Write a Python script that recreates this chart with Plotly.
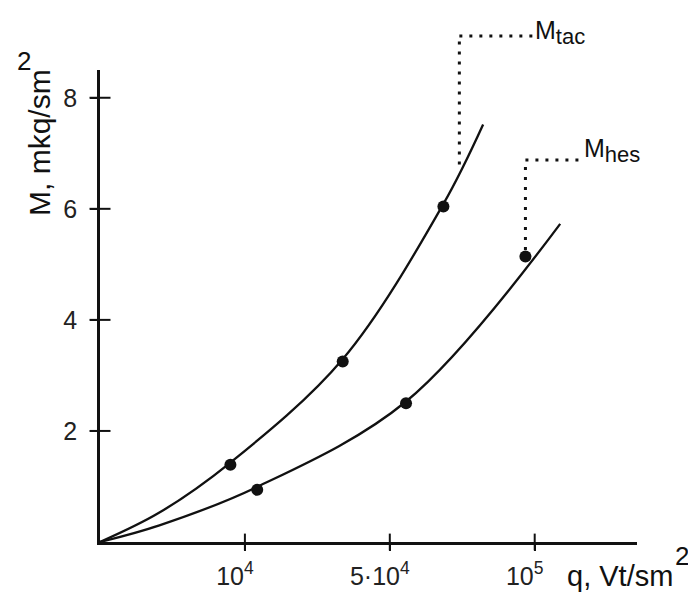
import plotly.graph_objects as go

# q axis is drawn with equal spacing between these anchor values
Q_ANCHORS = [0.0, 1e4, 5e4, 1e5]
Q_TICK_VALUES = [1e4, 5e4, 1e5]
Q_TICK_TEXT = ["10<sup>4</sup>", "5·10<sup>4</sup>", "10<sup>5</sup>"]
M_TICKS = [2, 4, 6, 8]

# measured points (q in Vt/sm^2, M in mkq/sm^2)
tec_q = [0.90e4, 3.70e4, 6.85e4]
tec_M = [1.39, 3.25, 6.04]
hes_q = [1.34e4, 5.56e4, 9.68e4]
hes_M = [0.94, 2.50, 5.14]

# smoothed curves through the measurements
tec_curve_q = [0.0, 0.41e4, 0.90e4, 3.71e4, 6.84e4, 8.22e4]
tec_curve_M = [0.0, 0.53, 1.43, 3.30, 6.08, 7.52]
hes_curve_q = [0.0, 0.41e4, 1.33e4, 5.56e4, 10.88e4]
hes_curve_M = [0.0, 0.30, 0.99, 2.53, 5.73]

# points where the label leaders touch each series
tec_leader = (7.40e4, 6.80)
hes_leader = (hes_q[-1], hes_M[-1] + 0.12)

X_RANGE = [0.0, 3.706]
Y_RANGE = [0.0, 8.50]
FONT = "Liberation Sans, Arial, sans-serif"
INK = "#111111"


def q_pos(q):
    """Position of q on the drawn (piecewise-uniform) q axis."""
    a = Q_ANCHORS
    for i in range(len(a) - 1):
        if q <= a[i + 1] or i == len(a) - 2:
            return i + (q - a[i]) / (a[i + 1] - a[i])
    return float(len(a) - 1)


def qs(values):
    return [q_pos(v) for v in values]


# plot area geometry in pixels
W, H = 688, 604
L, R, T, B = 100, 51, 70, 62
PW, PH = W - L - R, H - T - B


def px_to_paper(x=None, y=None):
    out = []
    if x is not None:
        out.append((x - L) / PW)
    if y is not None:
        out.append((H - B - y) / PH)
    return out[0] if len(out) == 1 else tuple(out)


def data_to_paper(q, m):
    u = q_pos(q)
    return ((u - X_RANGE[0]) / (X_RANGE[1] - X_RANGE[0]),
            (m - Y_RANGE[0]) / (Y_RANGE[1] - Y_RANGE[0]))


fig = go.Figure()

for cq, cm in [(tec_curve_q, tec_curve_M), (hes_curve_q, hes_curve_M)]:
    fig.add_trace(go.Scatter(x=qs(cq), y=cm, mode="lines",
                             line=dict(color=INK, width=2.3, shape="spline", smoothing=1.0),
                             showlegend=False, hoverinfo="skip"))

for pq, pm in [(tec_q, tec_M), (hes_q, hes_M)]:
    fig.add_trace(go.Scatter(x=qs(pq), y=pm, mode="markers",
                             marker=dict(color=INK, size=12, line=dict(width=0)),
                             showlegend=False, cliponaxis=False))

# tick marks that cross the axis lines (both sides)
fig.add_trace(go.Scatter(x=qs(Q_TICK_VALUES), y=[0] * len(Q_TICK_VALUES), mode="markers",
                         marker=dict(symbol="line-ns-open", size=12, color=INK,
                                     line=dict(color=INK, width=2)),
                         cliponaxis=False, showlegend=False, hoverinfo="skip"))
fig.add_trace(go.Scatter(x=[0] * len(M_TICKS), y=M_TICKS, mode="markers",
                         marker=dict(symbol="line-ew-open", size=15, color=INK,
                                     line=dict(color=INK, width=2)),
                         cliponaxis=False, showlegend=False, hoverinfo="skip"))

tick_font = dict(family=FONT, size=25, color="#222222")
fig.update_layout(
    width=W, height=H,
    margin=dict(l=L, r=R, t=T, b=B, pad=0),
    paper_bgcolor="white", plot_bgcolor="white",
    showlegend=False,
    xaxis=dict(range=X_RANGE, tickmode="array",
               tickvals=qs(Q_TICK_VALUES), ticktext=Q_TICK_TEXT,
               ticks="outside", ticklen=6, tickwidth=2, tickcolor=INK,
               showline=True, linewidth=2.5, linecolor=INK, showgrid=False, zeroline=False,
               tickfont=tick_font, ticklabelshift=-10, ticklabelstandoff=4),
    yaxis=dict(range=Y_RANGE, tickmode="array", tickvals=M_TICKS,
               ticks="outside", ticklen=7, tickwidth=2, tickcolor=INK,
               showline=True, linewidth=2.5, linecolor=INK, showgrid=False, zeroline=False,
               tickfont=tick_font, ticklabelstandoff=8),
)

# dotted leaders from each series to its label
dot_line = dict(color=INK, width=3, dash="3px,7px")
tx, ty = data_to_paper(*tec_leader)
tec_top = px_to_paper(y=36)
fig.add_shape(type="line", xref="paper", yref="paper", x0=tx, y0=ty, x1=tx, y1=tec_top, line=dot_line)
fig.add_shape(type="line", xref="paper", yref="paper", x0=tx, y0=tec_top,
              x1=px_to_paper(x=537), y1=tec_top, line=dot_line)

hx, hy = data_to_paper(*hes_leader)
hes_top = px_to_paper(y=160)
fig.add_shape(type="line", xref="paper", yref="paper", x0=hx, y0=hy, x1=hx, y1=hes_top, line=dot_line)
fig.add_shape(type="line", xref="paper", yref="paper", x0=hx, y0=hes_top,
              x1=px_to_paper(x=582), y1=hes_top, line=dot_line)

label_font = dict(family=FONT, size=25, color=INK)
title_font = dict(family=FONT, size=30, color=INK)
sup_font = dict(family=FONT, size=26, color=INK)


def note(text, xpx, ypx, font, xanchor="center", yanchor="middle", angle=0):
    fig.add_annotation(text=text, xref="paper", yref="paper",
                       x=px_to_paper(x=xpx), y=px_to_paper(y=ypx),
                       xanchor=xanchor, yanchor=yanchor, textangle=angle,
                       showarrow=False, font=font)


note("M<sub><span style='font-size:22px'>tac</span></sub>", 533, 32, label_font, xanchor="left")
note("M<sub><span style='font-size:22px'>hes</span></sub>", 582, 150, label_font, xanchor="left")

note("M, mkq/sm", 39, 143, title_font, angle=-90)
note("2", 24, 61, sup_font)
note("q, Vt/sm", 675, 576, dict(family=FONT, size=29, color=INK), xanchor="right")
note("2", 682, 556, sup_font)

fig.write_html("out.html")
